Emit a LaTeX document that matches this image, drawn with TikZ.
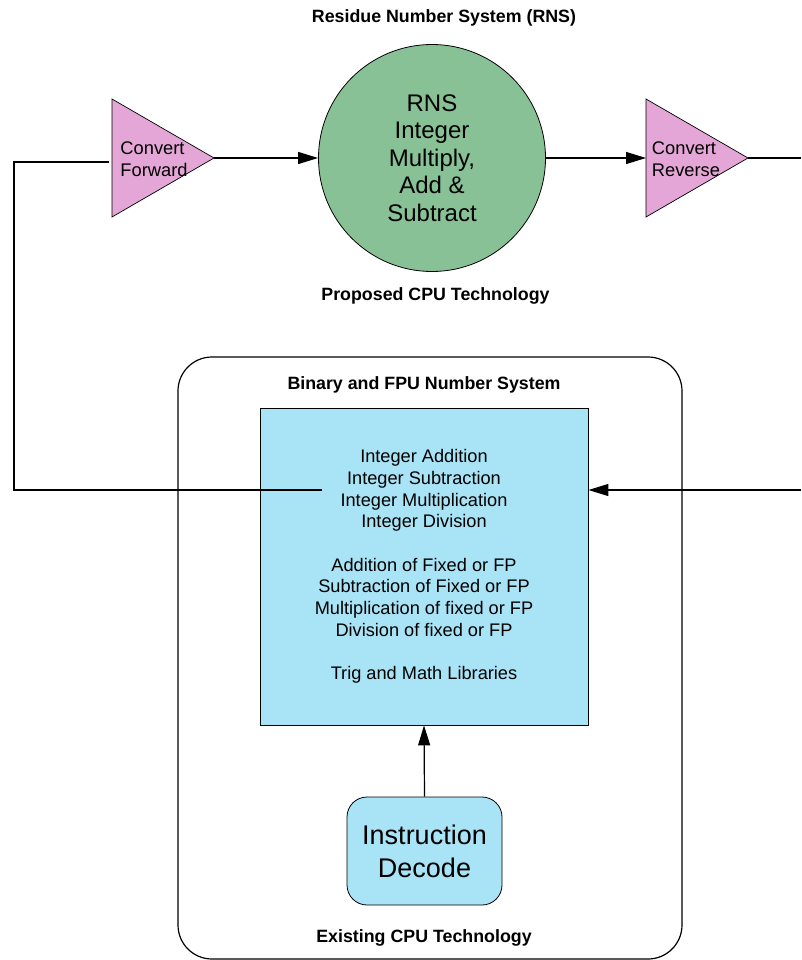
\documentclass[tikz,border=0pt]{standalone}
\usepackage{fontspec}
\setmainfont{Liberation Sans}
\usetikzlibrary{arrows.meta,shapes.geometric}
\definecolor{rnsgreen}{RGB}{137,193,151}
\definecolor{convpink}{RGB}{228,166,214}
\definecolor{fpublue}{RGB}{168,228,246}
\tikzset{
  conn/.style={line width=1.2pt},
  arr/.style={conn,-{Triangle[length=20pt,width=12pt]}},
  title/.style={font=\fontsize{17.8}{21}\selectfont\bfseries},
  conv/.style={draw=black,line width=0.7pt,fill=convpink},
}
\begin{document}
\begin{tikzpicture}[x=1pt,y=-1pt]
\useasboundingbox (0,0) rectangle (801,960);
% titles
\node[title] (ttop) at (444,18) {Residue Number System (RNS)};
\node[title] (tprop) at (435.5,296) {Proposed CPU Technology};
% RNS circle
\node[circle,draw=black,line width=0.8pt,fill=rnsgreen,minimum size=227pt,inner sep=0pt,align=center,
  font=\fontsize{24}{27.5}\selectfont] (rns) at (432,158) {RNS\\Integer\\Multiply,\\Add \&\\Subtract};
% converters
\draw[conv] (112,99) -- (214,158) -- (112,217) -- cycle;
\coordinate (cfL) at (112,158);
\coordinate (cfA) at (214,158);
\node[font=\fontsize{18.3}{22}\selectfont,align=left,inner sep=0pt] (cft) at (154,159) {Convert\\Forward};
\draw[conv] (646,99) -- (748,158) -- (646,217) -- cycle;
\coordinate (crL) at (646,158);
\coordinate (crA) at (748,158);
\node[font=\fontsize{18.3}{22}\selectfont,align=left,inner sep=0pt] (crt) at (686,159) {Convert\\Reverse};
\draw[arr] (cfA) -- (rns.west);
\draw[arr] (rns.east) -- (crL);
\coordinate (rout) at (801,158);
\draw[conn] (crA) -- (rout);
% outer container
\draw[line width=1.2pt,rounded corners=34pt] (178,357) rectangle (682,959);
\node[title] (tbin) at (424,385) {Binary and FPU Number System};
\node[title] (texist) at (424,938) {Existing CPU Technology};
% FPU box
\node[draw=black,line width=0.8pt,fill=fpublue,minimum width=328pt,minimum height=317pt,inner sep=0pt,
  align=center,font=\fontsize{18.2}{21.7}\selectfont] (fpu) at (424,566.5)
  {Integer Addition\\Integer Subtraction\\Integer Multiplication\\Integer Division\\[21.7pt]
   Addition of Fixed or FP\\Subtraction of Fixed or FP\\Multiplication of fixed or FP\\Division of fixed or FP\\[21.7pt]
   Trig and Math Libraries};
% instruction decode
\node[draw=black,line width=0.8pt,fill=fpublue,rounded corners=20pt,minimum width=155pt,minimum height=108pt,
  inner sep=0pt,align=center,font=\fontsize{27}{33}\selectfont] (dec) at (424.5,851) {Instruction\\Decode};
\draw[arr] (dec.north) -- (fpu.south);
% feedback lines
\coordinate (lfs) at (109,162);
\coordinate (lfc) at (14,490);
\coordinate (lfe) at (322,490);
\draw[conn] (lfs) -| (lfc) -- (lfe);
\coordinate (rin) at (801,490);
\draw[arr] (rin) -- (rin -| fpu.east);
\end{tikzpicture}
\end{document}
